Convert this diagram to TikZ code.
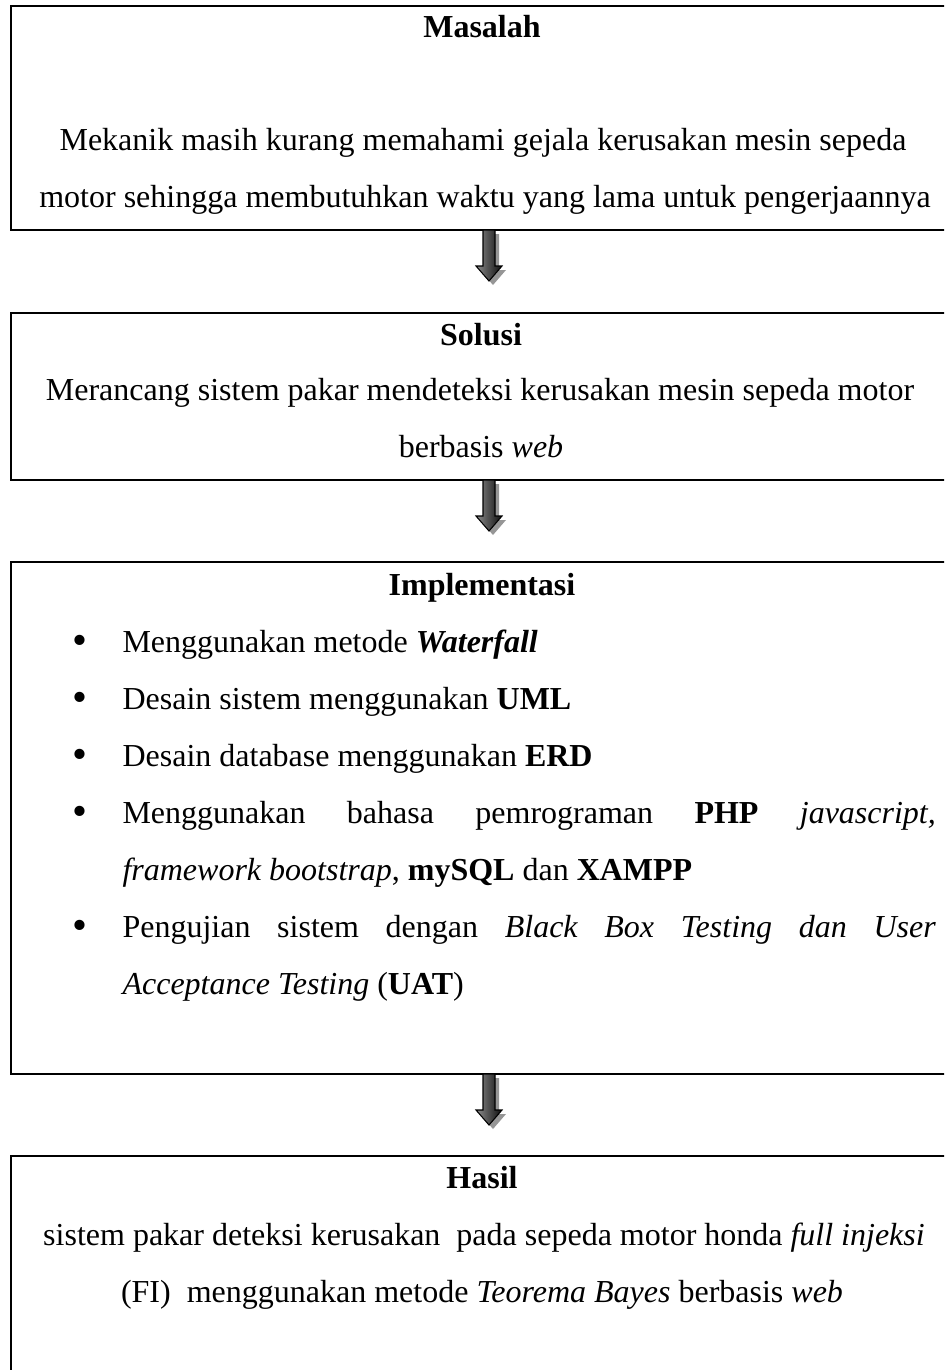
\documentclass[tikz,border=0pt]{standalone}
\usepackage{fontspec}
\setmainfont{Liberation Serif}
\usepackage{tikz}
\definecolor{ArrowShade}{RGB}{150, 150, 150}

\begin{document}
\begin{tikzpicture}[x=0.375pt, y=-0.375pt,
    box/.style={line width=0.8pt},
    txt/.style={font=\fontsize{12}{14}\selectfont, anchor=base, inner sep=0pt},
    item/.style={txt, anchor=base west},
    dot/.style={txt, font=\fontsize{16}{16}\selectfont},
    blockarrow/.style={draw=black, line width=0.4pt, left color=black!45, right color=black!95}]
  \useasboundingbox (0,0) rectangle (944,1370);
  \clip (0,0) rectangle (944,1370);

  % boxes
  \draw[box] (11,6) rectangle (953,230);
  \draw[box] (11,313) rectangle (953,480);
  \draw[box] (11,562) rectangle (953,1074);
  \draw[box] (11,1156) rectangle (953,1420);

  % Masalah
  \node[txt] (masalah) at (482,38) {\textbf{Masalah}};
  \node[txt] (masalah1) at (483,150) {Mekanik masih kurang memahami gejala kerusakan mesin sepeda};
  \node[txt] (masalah2) at (485,207) {motor sehingga membutuhkan waktu yang lama untuk pengerjaannya};

  % Solusi
  \node[txt] (solusi) at (481,345) {\textbf{Solusi}};
  \node[txt] (solusi1) at (480,400) {Merancang sistem pakar mendeteksi kerusakan mesin sepeda motor};
  \node[txt] (solusi2) at (481,457) {berbasis \textit{web}};

  % Implementasi
  \node[txt] (impl) at (482,595) {\textbf{Implementasi}};
  \foreach \y in {652,709,766,823,937}
    \node[dot] at (80,\y+2) {\textbullet};
  \node[item] (impl1) at (122,652) {Menggunakan metode \textbf{\textit{Waterfall}}};
  \node[item] (impl2) at (122,709) {Desain sistem menggunakan \textbf{UML}};
  \node[item] (impl3) at (122,766) {Desain database menggunakan \textbf{ERD}};
  \node[item] (impl4) at (122,823) {\makebox[305pt][s]{Menggunakan bahasa pemrograman \textbf{PHP} \textit{javascript,}}};
  \node[item] (impl4b) at (122,880) {\textit{framework bootstrap}, \textbf{mySQL} dan \textbf{XAMPP}};
  \node[item] (impl5) at (122,937) {\makebox[305pt][s]{Pengujian sistem dengan \textit{Black Box Testing dan User}}};
  \node[item] (impl5b) at (122,994) {\textit{Acceptance Testing} (\textbf{UAT})};

  % Hasil
  \node[txt] (hasil) at (482,1188) {\textbf{Hasil}};
  \node[txt] (hasil1) at (484,1245) {sistem pakar deteksi kerusakan\ \ pada sepeda motor honda \textit{full injeksi}};
  \node[txt] (hasil2) at (482,1302) {(FI)\ \ menggunakan metode \textit{Teorema Bayes} berbasis \textit{web}};

  % arrows between the boxes
  \coordinate (m-s) at (489,230);
  \coordinate (s-s) at (489,480);
  \coordinate (i-s) at (489,1074);
  \foreach \c in {m-s,s-s,i-s} {
    \fill[ArrowShade] ([xshift=1.5pt,yshift=-1.5pt]\c) ++(-6,0) -- ++(12,0) -- ++(0,36) -- ++(7,0)
      -- ++(-13,15) -- ++(-13,-15) -- ++(7,0) -- cycle;
    \draw[blockarrow] (\c) ++(-6,0) -- ++(12,0) -- ++(0,36) -- ++(7,0)
      -- ++(-13,15) -- ++(-13,-15) -- ++(7,0) -- cycle;
  }
\end{tikzpicture}
\end{document}
